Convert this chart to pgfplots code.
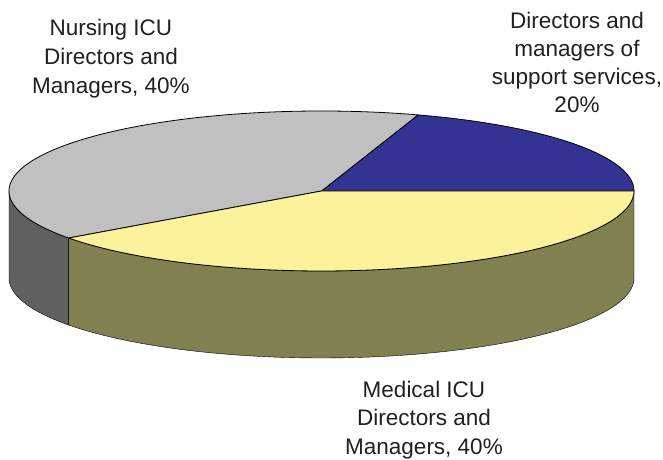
\documentclass[border=0pt]{standalone}
\usepackage{pgfplots}
\pgfplotsset{compat=1.18}
\usepackage{pgfplotstable}
\usepgfplotslibrary{fillbetween}
\usepackage{fontspec}
\setmainfont{Liberation Sans}
\definecolor{cblue}{HTML}{333393}
\definecolor{cgray}{HTML}{C0C0C0}
\definecolor{cyellow}{HTML}{FBF29B}
\definecolor{colive}{HTML}{808050}
\definecolor{cdark}{HTML}{606060}
\definecolor{ctext}{HTML}{231F20}

\pgfplotstableread{
share slice
20 support
40 nursing
40 medical
}\piedata
\pgfplotstablegetelem{0}{share}\of\piedata \let\sA\pgfplotsretval
\pgfplotstablegetelem{1}{share}\of\piedata \let\sB\pgfplotsretval
\pgfplotstablegetelem{2}{share}\of\piedata \let\sC\pgfplotsretval
\pgfmathsetmacro\tot{\sA+\sB+\sC}
\pgfmathsetmacro\aA{0}
\pgfmathsetmacro\aB{\aA+360*\sA/\tot}
\pgfmathsetmacro\aC{\aB+360*\sB/\tot}
\pgfmathsetmacro\aD{\aC+360*\sC/\tot}
\def\cx{321.5}
\def\cy{191}
\def\ra{312.5}
\def\rb{80}
\def\dep{87}

\begin{document}%
\begin{tikzpicture}
\begin{axis}[
  scale only axis, width=663bp, height=460bp,
  xmin=0, xmax=663, ymin=0, ymax=460, y dir=reverse,
  hide axis, clip=false,
  every axis plot/.append style={line width=0.8bp, line join=round},
]
\coordinate (bl) at (axis cs:0,460);
\coordinate (tr) at (axis cs:663,0);
% front side faces
\addplot[name path=gt, draw=none, domain=180:\aC, samples=40] ({\cx+\ra*cos(x)},{\cy-\rb*sin(x)});
\addplot[name path=gb, draw=none, domain=180:\aC, samples=40] ({\cx+\ra*cos(x)},{\cy+\dep-\rb*sin(x)});
\addplot[fill=cdark, draw=black] fill between[of=gt and gb];
\addplot[name path=ot, draw=none, domain=\aC:\aD, samples=120] ({\cx+\ra*cos(x)},{\cy-\rb*sin(x)});
\addplot[name path=ob, draw=none, domain=\aC:\aD, samples=120] ({\cx+\ra*cos(x)},{\cy+\dep-\rb*sin(x)});
\addplot[fill=colive, draw=black] fill between[of=ot and ob];
% top face slices
\addplot[fill=cblue, draw=black, domain=\aA:\aB, samples=80] ({\cx+\ra*cos(x)},{\cy-\rb*sin(x)}) -- (axis cs:\cx,\cy) -- cycle;
\addplot[fill=cgray, draw=black, domain=\aB:\aC, samples=120] ({\cx+\ra*cos(x)},{\cy-\rb*sin(x)}) -- (axis cs:\cx,\cy) -- cycle;
\addplot[fill=cyellow, draw=black, domain=\aC:\aD, samples=120] ({\cx+\ra*cos(x)},{\cy-\rb*sin(x)}) -- (axis cs:\cx,\cy) -- cycle;
% labels
\begin{scope}[every node/.style={anchor=base, inner sep=0pt, text=ctext, font=\fontsize{22.5bp}{28bp}\selectfont}]
\node at (axis cs:111,36) {Nursing ICU};
\node at (axis cs:111,65) {Directors and};
\node at (axis cs:111,94) {Managers, 40\%};
\node at (axis cs:577,29) {Directors and};
\node at (axis cs:577,57) {managers of};
\node at (axis cs:577,85) {support services,};
\node at (axis cs:577,113) {20\%};
\node at (axis cs:424,398) {Medical ICU};
\node at (axis cs:424,426) {Directors and};
\node at (axis cs:424,455) {Managers, 40\%};
\end{scope}
\end{axis}
\pgfresetboundingbox
\path[use as bounding box] (bl) rectangle (tr);
\end{tikzpicture}%
\end{document}
